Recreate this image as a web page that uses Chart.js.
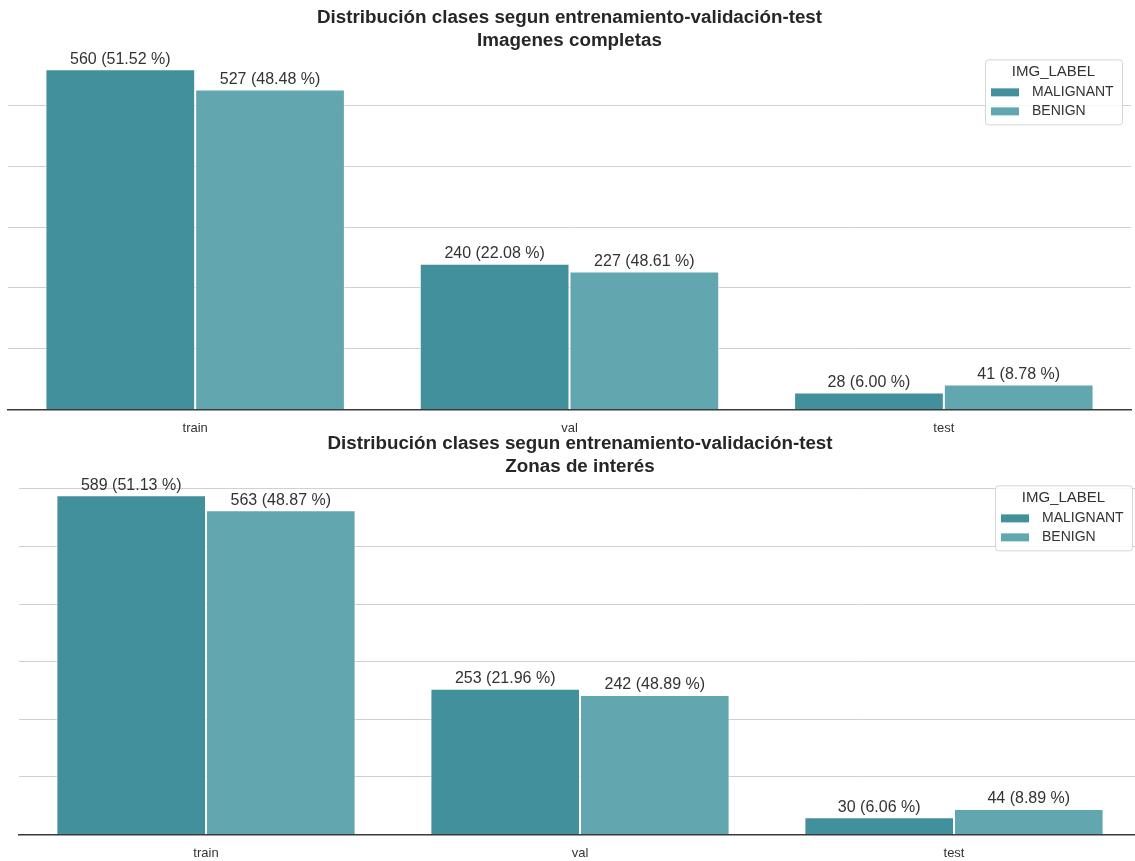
<!DOCTYPE html>
<html>
<head>
<meta charset="utf-8">
<script src="https://cdn.jsdelivr.net/npm/chart.js@4/dist/chart.umd.min.js"></script>
<style>
  html, body { margin: 0; padding: 0; background: #fff; overflow: hidden; }
  #wrap { position: relative; width: 1135px; height: 861px; overflow: hidden; }
  #c1 { position: absolute; left: 0; top: 0; }
  #c2 { position: absolute; left: 0; top: 428px; }
</style>
</head>
<body>
<div id="wrap">
  <canvas id="c1" width="1135" height="447"></canvas>
  <canvas id="c2" width="1142" height="444"></canvas>
</div>
<script>
//Categories shared by both charts
const splits = ["train", "val", "test"];
const classes = ["MALIGNANT", "BENIGN"];
//Top chart: full images
const fullMalignant = [560, 240, 28];
const fullBenign = [527, 227, 41];
const fullMalignantPct = ["51.52", "22.08", "6.00"];
const fullBenignPct = ["48.48", "48.61", "8.78"];
//Bottom chart: regions of interest
const roiMalignant = [589, 253, 30];
const roiBenign = [563, 242, 44];
const roiMalignantPct = ["51.13", "21.96", "6.06"];
const roiBenignPct = ["48.87", "48.89", "8.89"];

const colMal = "#42909b";
const colBen = "#62a6af";
const font = "'Liberation Sans', Arial, sans-serif";

//Writes "value (pct %)" above every bar
const barLabels = {
  id: "barLabels",
  afterDatasetsDraw(chart) {
    const ctx = chart.ctx;
    ctx.save();
    ctx.font = "16px " + font;
    ctx.fillStyle = "#333";
    ctx.textAlign = "center";
    ctx.textBaseline = "bottom";
    chart.data.datasets.forEach((ds, i) => {
      chart.getDatasetMeta(i).data.forEach((bar, j) => {
        ctx.fillText(ds.data[j] + " (" + ds.pct[j] + " %)", bar.x, bar.y - 2);
      });
    });
    ctx.restore();
  }
};

//Boxed legend with a title, drawn in the top right corner of the plot
const boxLegend = {
  id: "boxLegend",
  afterDraw(chart) {
    const ctx = chart.ctx;
    const a = chart.chartArea;
    const w = 137, h = 65;
    const left = a.right - 9 - w, top = a.top + 7;
    ctx.save();
    ctx.fillStyle = "rgba(255,255,255,0.85)";
    ctx.strokeStyle = "#d6d6d6";
    ctx.lineWidth = 1;
    ctx.beginPath();
    ctx.roundRect(left + 0.5, top + 0.5, w, h, 3);
    ctx.fill();
    ctx.stroke();
    ctx.fillStyle = "#333";
    ctx.textBaseline = "middle";
    ctx.textAlign = "center";
    ctx.font = "15px " + font;
    ctx.fillText("IMG_LABEL", left + w / 2, top + 12);
    ctx.textAlign = "left";
    ctx.font = "14px " + font;
    chart.data.datasets.forEach((ds, i) => {
      const y = top + 33 + i * 19;
      ctx.fillStyle = ds.backgroundColor;
      ctx.fillRect(left + 6, y - 4, 28, 8);
      ctx.fillStyle = "#333";
      ctx.fillText(ds.label, left + 47, y);
    });
    ctx.restore();
  }
};

let makeChart = (id, title, mal, ben, malPct, benPct, pad) => {
  const top = Math.max(...mal, ...ben);
  return new Chart(document.getElementById(id), {
    type: "bar",
    data: {
      labels: splits,
      datasets: [
        { label: classes[0], data: mal, pct: malPct, backgroundColor: colMal,
          borderColor: "rgba(255,255,255,0.7)", borderWidth: 1 },
        { label: classes[1], data: ben, pct: benPct, backgroundColor: colBen,
          borderColor: "rgba(255,255,255,0.7)", borderWidth: 1 }
      ]
    },
    options: {
      responsive: false,
      animation: false,
      layout: { padding: { left: pad.left, right: pad.right, top: 0, bottom: 0 } },
      datasets: { bar: { barPercentage: 1, categoryPercentage: 0.8 } },
      scales: {
        x: {
          grid: { display: false, drawTicks: false },
          border: { color: "#3a3a3a", width: 1.5 },
          ticks: { color: "#333", padding: 11, font: { family: font, size: 13 } }
        },
        y: {
          min: 0,
          max: top * 1.05,
          grid: { color: "#d0d0d0", lineWidth: 1, drawTicks: false },
          border: { display: false },
          ticks: { display: false, stepSize: 100, includeBounds: false }
        }
      },
      plugins: {
        legend: { display: false },
        tooltip: { enabled: false },
        title: {
          display: true,
          text: title,
          color: "#262626",
          font: { family: font, size: 18.8, weight: "bold", lineHeight: 1.22 },
          padding: { top: pad.titleTop, bottom: 0 }
        }
      }
    },
    plugins: [barLabels, boxLegend]
  });
};

makeChart("c1",
  ["Distribución clases segun entrenamiento-validación-test", "Imagenes completas"],
  fullMalignant, fullBenign, fullMalignantPct, fullBenignPct,
  { left: 8, right: 4, titleTop: 6.5 });

makeChart("c2",
  ["Distribución clases segun entrenamiento-validación-test", "Zonas de interés"],
  roiMalignant, roiBenign, roiMalignantPct, roiBenignPct,
  { left: 19, right: 1, titleTop: 4.5 });
</script>
</body>
</html>
